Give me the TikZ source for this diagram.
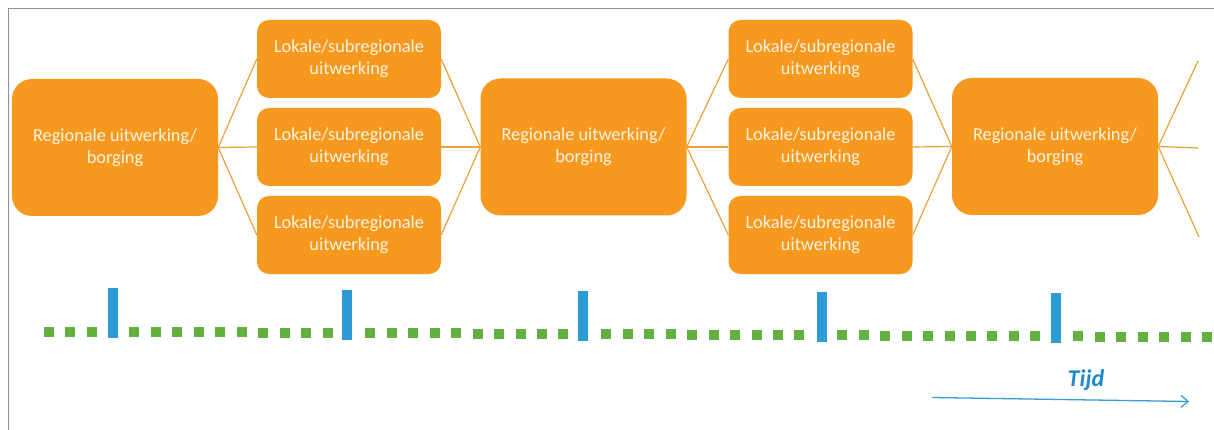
\documentclass[tikz,border=0pt]{standalone}
\usepackage{fontspec}
\setmainfont{Carlito}
\usetikzlibrary{arrows.meta}
\definecolor{boxorange}{HTML}{F7981F}
\definecolor{lineorange}{HTML}{EAA13A}
\definecolor{boxtext}{HTML}{FFF4E2}
\definecolor{dotgreen}{HTML}{62B03F}
\definecolor{tickblue}{HTML}{2C9BD6}
\definecolor{tijdblue}{HTML}{1F8CC8}
\definecolor{arrowblue}{HTML}{3C9CD2}
\definecolor{framegray}{HTML}{8A8F96}
\begin{document}
\begin{tikzpicture}[x=1pt,y=-1pt,
  bigbox/.style={fill=boxorange, rounded corners=20pt, minimum width=206pt, minimum height=137pt,
    inner sep=0pt, text=boxtext, align=center, font=\fontsize{18.3}{22}\selectfont},
  smallbox/.style={fill=boxorange, rounded corners=12pt, minimum width=184pt, minimum height=78pt,
    inner sep=0pt, text=boxtext, align=center, font=\fontsize{18.3}{22}\selectfont},
  link/.style={draw=lineorange, line width=1.2pt},
  greensq/.style={fill=dotgreen},
  tickbar/.style={fill=tickblue},
  timearrow/.style={draw=arrowblue, line width=1.3pt, -{Straight Barb[length=7pt,width=12pt,line width=1.3pt]}}]
  % canvas
  \fill[white] (0,0) rectangle (1214,430);
  \useasboundingbox (0,0) rectangle (1214,430);
  % frame
  \draw[framegray, line width=1.6pt] (1214,8.5) -- (8.5,8.5) -- (8.5,430);

  % big boxes
  \node[bigbox] (r1) at (115,147.5) {Regionale uitwerking/\\borging};
  \node[bigbox] (r2) at (583.5,147) {Regionale uitwerking/\\borging};
  \node[bigbox] (r3) at (1055,146.5) {Regionale uitwerking/\\borging};

  % small boxes
  \node[smallbox] (a1) at (349,59)  {Lokale/subregionale\\uitwerking};
  \node[smallbox] (a2) at (349,147) {Lokale/subregionale\\uitwerking};
  \node[smallbox] (a3) at (349,235) {Lokale/subregionale\\uitwerking};
  \node[smallbox] (b1) at (820.5,59)  {Lokale/subregionale\\uitwerking};
  \node[smallbox] (b2) at (820.5,147) {Lokale/subregionale\\uitwerking};
  \node[smallbox] (b3) at (820.5,235) {Lokale/subregionale\\uitwerking};

  % free ends on the right
  \coordinate (e1) at (1198,61);
  \coordinate (e2) at (1198,148);
  \coordinate (e3) at (1199,237);

  % connectors
  \foreach \s in {a1,a2,a3} {
    \draw[link] (r1.east) -- (\s.west);
    \draw[link] (\s.east) -- (r2.west);
  }
  \foreach \s in {b1,b2,b3} {
    \draw[link] (r2.east) -- (\s.west);
    \draw[link] (\s.east) -- (r3.west);
  }
  \foreach \e in {e1,e2,e3} {
    \draw[link] (r3.east) -- (\e);
  }

  % dotted timeline
  \foreach \k in {-3,...,51} {
    \pgfmathtruncatemacro\m{mod(\k+33,11)}
    \ifnum\m=0\relax\else
      \pgfmathsetmacro\xx{113+21.45*\k}
      \pgfmathsetmacro\yy{331.5+(\xx-47)*0.0048}
      \fill[greensq] (\xx-5,\yy-5) rectangle (\xx+5,\yy+5);
    \fi
  }
  % blue ticks
  \foreach \x/\t in {113/288, 347/290, 583/291, 822/292, 1056/293} {
    \fill[tickbar] (\x-5,\t) rectangle (\x+5,\t+50);
  }

  % time arrow
  \node[font=\fontsize{24}{28}\selectfont\bfseries\itshape, text=tijdblue] (tijd) at (1086,380) {Tijd};
  \coordinate (ts) at (932,397.5);
  \coordinate (te) at (1189,401.5);
  \draw[timearrow] (ts) -- (te);
\end{tikzpicture}
\end{document}
